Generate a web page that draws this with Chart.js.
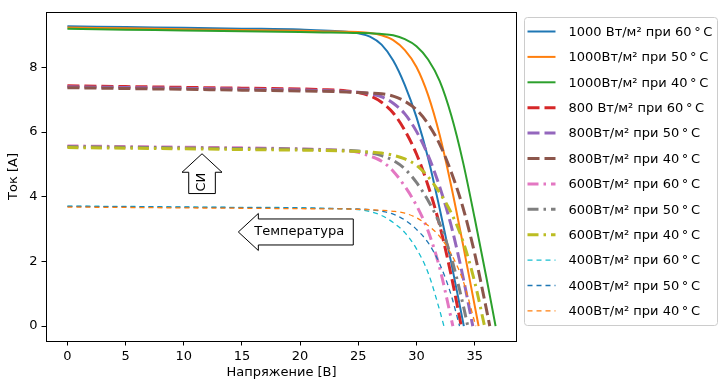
<!DOCTYPE html>
<html>
<head>
<meta charset="utf-8">
<script src="https://cdn.jsdelivr.net/npm/chart.js@4.4.0/dist/chart.umd.min.js"></script>
<style>
  html, body { margin: 0; padding: 0; background: #fff; }
  #wrap { width: 718px; height: 380px; position: relative; }
</style>
</head>
<body>
<div id="wrap"><canvas id="ivChart"></canvas></div>
<script>
// voltage grid (V) shared by every curve; each curve stops at its own Voc
const VOLTS = [0, 5, 10, 15, 20, 22, 24, 25, 26, 27, 28, 29, 30, 31, 32, 33, 34, 35, 36];

// currents (A)
const I_1000_60 = [9.27, 9.245, 9.22, 9.195, 9.17, 9.14, 9.10, 9.05, 8.95, 8.70, 8.21, 7.45, 6.46, 5.20, 3.62, 1.94, 0.13];
const I_1000_50 = [9.23, 9.205, 9.18, 9.155, 9.13, 9.11, 9.10, 9.09, 9.06, 8.99, 8.84, 8.53, 8.01, 7.14, 5.90, 4.31, 2.52, 0.64];
const I_1000_40 = [9.19, 9.165, 9.14, 9.115, 9.09, 9.08, 9.07, 9.06, 9.05, 9.03, 8.99, 8.87, 8.65, 8.24, 7.57, 6.50, 5.07, 3.34, 1.52];
const I_800_60 = [7.43, 7.405, 7.38, 7.355, 7.33, 7.31, 7.27, 7.22, 7.12, 6.92, 6.59, 6.05, 5.32, 4.34, 3.11, 1.54];
const I_800_50 = [7.40, 7.375, 7.35, 7.325, 7.30, 7.28, 7.25, 7.23, 7.18, 7.09, 6.89, 6.56, 6.02, 5.28, 4.30, 3.08, 1.52];
const I_800_40 = [7.37, 7.345, 7.32, 7.295, 7.27, 7.26, 7.24, 7.22, 7.20, 7.18, 7.11, 6.95, 6.69, 6.25, 5.62, 4.75, 3.66, 2.25, 0.54];
const I_600_60 = [5.57, 5.55, 5.53, 5.51, 5.48, 5.46, 5.42, 5.37, 5.26, 5.10, 4.79, 4.32, 3.73, 2.94, 1.79, 0.21];
const I_600_50 = [5.55, 5.53, 5.51, 5.49, 5.47, 5.45, 5.43, 5.41, 5.36, 5.27, 5.12, 4.86, 4.44, 3.88, 3.16, 2.11, 0.67];
const I_600_40 = [5.52, 5.50, 5.48, 5.46, 5.44, 5.43, 5.41, 5.40, 5.38, 5.35, 5.28, 5.17, 4.97, 4.62, 4.12, 3.49, 2.62, 1.37];
const I_400_60 = [3.71, 3.70, 3.685, 3.67, 3.66, 3.64, 3.62, 3.60, 3.54, 3.42, 3.20, 2.89, 2.39, 1.65, 0.48];
const I_400_50 = [3.70, 3.69, 3.675, 3.663, 3.65, 3.64, 3.63, 3.62, 3.60, 3.55, 3.46, 3.28, 2.99, 2.58, 1.92, 0.94];
const I_400_40 = [3.68, 3.668, 3.655, 3.643, 3.63, 3.625, 3.62, 3.61, 3.60, 3.58, 3.55, 3.49, 3.35, 3.11, 2.77, 2.22, 1.41, 0.13];

const CURRENTS = [I_1000_60, I_1000_50, I_1000_40, I_800_60, I_800_50, I_800_40,
                  I_600_60, I_600_50, I_600_40, I_400_60, I_400_50, I_400_40];

// open-circuit voltage of each curve (where it meets I = 0)
const VOC = [34.07, 35.34, 36.8, 33.85, 34.84, 36.3, 33.13, 34.41, 35.85, 32.36, 33.7, 35.1];

const LABELS = [
  '1000 Вт/м² при 60\u2009°\u2009C', '1000Вт/м² при 50\u2009°\u2009C', '1000Вт/м² при 40\u2009°\u2009C',
  '800 Вт/м² при 60\u2009°\u2009C', '800Вт/м² при 50\u2009°\u2009C', '800Вт/м² при 40\u2009°\u2009C',
  '600Вт/м² при 60\u2009°\u2009C', '600Вт/м² при 50\u2009°\u2009C', '600Вт/м² при 40\u2009°\u2009C',
  '400Вт/м² при 60\u2009°\u2009C', '400Вт/м² при 50\u2009°\u2009C', '400Вт/м² при 40\u2009°\u2009C'
];

const X_TICKS = [0, 5, 10, 15, 20, 25, 30, 35];
const Y_TICKS = [0, 2, 4, 6, 8];

// matplotlib tab10 cycle
const COLORS = ['#1f77b4', '#ff7f0e', '#2ca02c', '#d62728', '#9467bd', '#8c564b',
                '#e377c2', '#7f7f7f', '#bcbd22', '#17becf', '#1f77b4', '#ff7f0e'];

// one style per irradiance group
const GROUP_STYLE = [
  { width: 2, dash: [] },               // 1000 solid
  { width: 3, dash: [12, 5] },          // 800 dashed
  { width: 3, dash: [11, 5, 2.5, 5] },  // 600 dash-dot
  { width: 1.3, dash: [5, 4] }          // 400 short dashes
];

const NOTES = [
  { text: 'СИ', x: 11.57, y: 4.45, kind: 'up' },
  { text: 'Температура', x: 19.93, y: 2.91, kind: 'left' }
];

const FONT = { family: "'DejaVu Sans', sans-serif", size: 13 };
const FONT_CSS = "13px 'DejaVu Sans', sans-serif";

const datasets = CURRENTS.map((cur, i) => {
  const pts = cur.map((c, k) => ({ x: VOLTS[k], y: c }));
  pts.push({ x: VOC[i], y: 0 });
  const st = GROUP_STYLE[Math.floor(i / 3)];
  return {
    label: LABELS[i],
    data: pts,
    borderColor: COLORS[i],
    backgroundColor: COLORS[i],
    borderWidth: st.width,
    borderDash: st.dash,
    pointRadius: 0,
    fill: false,
    cubicInterpolationMode: 'monotone',
    order: CURRENTS.length - i
  };
});

const framePlugin = {
  id: 'frame',
  afterDatasetsDraw(chart) {
    const { ctx, chartArea: a, scales } = chart;
    ctx.save();
    ctx.strokeStyle = '#000';
    ctx.lineWidth = 1;
    ctx.strokeRect(Math.round(a.left) + 0.5, Math.round(a.top) + 0.5,
      Math.round(a.right - a.left) - 1, Math.round(a.bottom - a.top));

    // block-arrow annotations
    ctx.font = FONT_CSS;
    ctx.fillStyle = '#000';
    ctx.textAlign = 'center';
    ctx.textBaseline = 'middle';
    NOTES.forEach(n => {
      const cx = scales.x.getPixelForValue(n.x);
      const cy = scales.y.getPixelForValue(n.y);
      const w = ctx.measureText(n.text).width;
      ctx.beginPath();
      if (n.kind === 'left') {
        const l = cx - w / 2, r = cx + w / 2;
        ctx.moveTo(r + 9, cy - 13);
        ctx.lineTo(l + 4, cy - 13);
        ctx.lineTo(l + 4, cy - 18.5);
        ctx.lineTo(l - 16, cy);
        ctx.lineTo(l + 4, cy + 18.5);
        ctx.lineTo(l + 4, cy + 13);
        ctx.lineTo(r + 9, cy + 13);
      } else {
        const t = cy - w / 2, b = cy + w / 2;
        ctx.moveTo(cx - 13.3, b + 2);
        ctx.lineTo(cx - 13.3, t - 0.5);
        ctx.lineTo(cx - 20, t - 0.5);
        ctx.lineTo(cx, t - 19);
        ctx.lineTo(cx + 20, t - 0.5);
        ctx.lineTo(cx + 13.3, t - 0.5);
        ctx.lineTo(cx + 13.3, b + 2);
      }
      ctx.closePath();
      ctx.fillStyle = '#fff';
      ctx.fill();
      ctx.strokeStyle = '#000';
      ctx.lineWidth = 1;
      ctx.stroke();
      ctx.fillStyle = '#000';
      if (n.kind === 'up') {
        ctx.save();
        ctx.translate(cx, cy);
        ctx.rotate(-Math.PI / 2);
        ctx.fillText(n.text, 0, 0);
        ctx.restore();
      } else {
        ctx.fillText(n.text, cx, cy);
      }
    });
    ctx.restore();
  },
  afterDraw(chart) {
    // legend box outside the axes, on the right
    const { ctx, chartArea: a } = chart;
    const x0 = a.right + 7.5, y0 = a.top + 5.5, w = 193, h = 308, r = 3;
    ctx.save();
    ctx.beginPath();
    ctx.moveTo(x0 + r, y0);
    ctx.arcTo(x0 + w, y0, x0 + w, y0 + h, r);
    ctx.arcTo(x0 + w, y0 + h, x0, y0 + h, r);
    ctx.arcTo(x0, y0 + h, x0, y0, r);
    ctx.arcTo(x0, y0, x0 + w, y0, r);
    ctx.closePath();
    ctx.fillStyle = 'rgba(255,255,255,0.8)';
    ctx.fill();
    ctx.strokeStyle = '#cccccc';
    ctx.lineWidth = 1;
    ctx.stroke();

    ctx.font = FONT_CSS;
    ctx.textAlign = 'left';
    ctx.textBaseline = 'middle';
    chart.data.datasets.forEach((ds, i) => {
      const y = y0 + 14 + i * 25.4;
      ctx.beginPath();
      ctx.strokeStyle = ds.borderColor;
      ctx.lineWidth = ds.borderWidth;
      ctx.setLineDash(ds.borderDash);
      ctx.moveTo(x0 + 3, y);
      ctx.lineTo(x0 + 31, y);
      ctx.stroke();
      ctx.setLineDash([]);
      ctx.fillStyle = '#000';
      ctx.fillText(ds.label, x0 + 44, y + 1);
    });
    ctx.restore();
  }
};

const tickGrid = {
  display: true,
  drawOnChartArea: false,
  drawTicks: true,
  tickLength: 4.5,
  tickColor: '#000',
  tickWidth: 1
};

new Chart(document.getElementById('ivChart').getContext('2d'), {
  type: 'line',
  data: { datasets },
  options: {
    responsive: true,
    maintainAspectRatio: false,
    animation: false,
    devicePixelRatio: 1,
    layout: { padding: { left: 0, right: 201, top: 12, bottom: 0 } },
    plugins: {
      legend: { display: false },
      tooltip: { enabled: false }
    },
    scales: {
      x: {
        type: 'linear',
        min: -1.84,
        max: 38.64,
        afterBuildTicks: s => { s.ticks = X_TICKS.map(v => ({ value: v })); },
        afterFit: s => { s.height = 39; },
        ticks: { font: FONT, color: '#000', padding: 3, maxRotation: 0, callback: v => String(v) },
        grid: tickGrid,
        border: { display: false },
        title: { display: true, text: 'Напряжение [В]', font: FONT, color: '#000', padding: { top: 0, bottom: 0 } }
      },
      y: {
        type: 'linear',
        min: -0.46,
        max: 9.71,
        afterBuildTicks: s => { s.ticks = Y_TICKS.map(v => ({ value: v })); },
        afterFit: s => { s.width = 46; },
        ticks: { font: FONT, color: '#000', padding: 4, callback: v => String(v) },
        grid: tickGrid,
        border: { display: false },
        title: { display: true, text: 'Ток [А]', font: FONT, color: '#000', padding: { top: 6, bottom: 0 } }
      }
    }
  },
  plugins: [framePlugin]
});
</script>
</body>
</html>
